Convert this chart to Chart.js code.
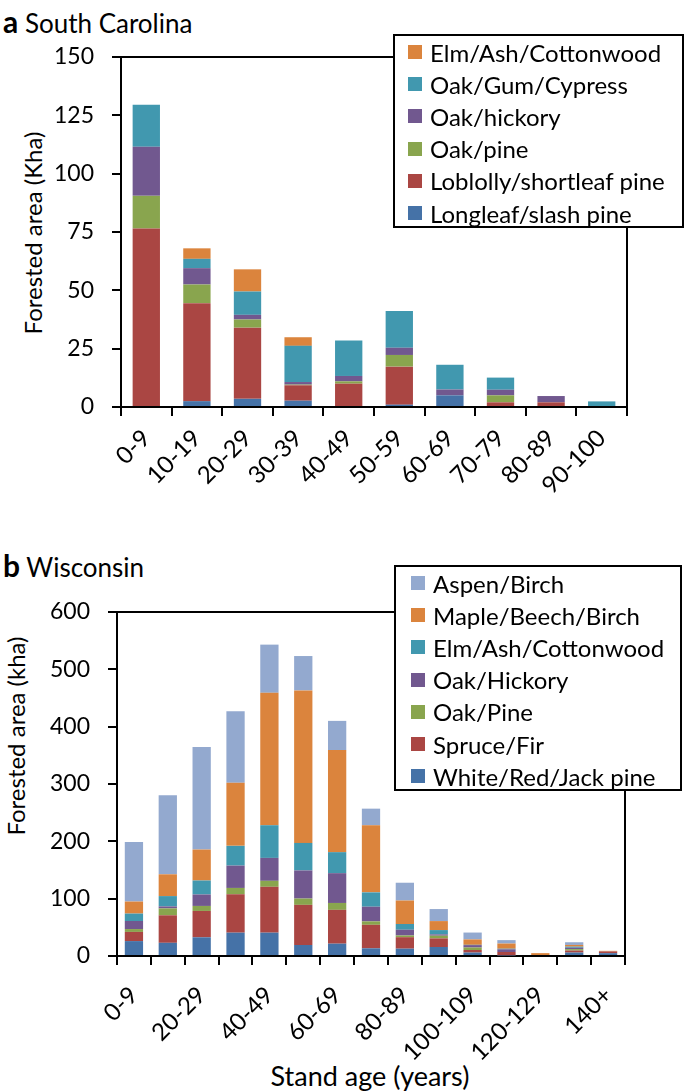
<!DOCTYPE html>
<html>
<head>
<meta charset="utf-8">
<script src="https://cdn.jsdelivr.net/npm/chart.js@4.4.1/dist/chart.umd.min.js"></script>
<style>
  body { margin: 0; background: #fff; }
  #wrap { position: relative; width: 685px; height: 1092px; overflow: hidden; font-family: Lato, sans-serif; color: #000; }
  canvas { position: absolute; left: 0; }
  .txt { position: absolute; white-space: nowrap; line-height: 1; }
  .ytitle { position: absolute; white-space: nowrap; line-height: 1; font-size: 24px; transform: translate(-50%, -50%) rotate(-90deg); }
  .legend { position: absolute; background: #fff; border: 2px solid #000; box-sizing: border-box; }
  .legend .row { position: absolute; left: 0; height: 32px; display: flex; align-items: center; font-size: 24px; white-space: nowrap; }
  .legend .sw { display: inline-block; width: 14px; height: 14px; margin-right: 8px; }
</style>
</head>
<body>
<div id="wrap">
  <div class="txt" style="left:3px;top:6px;font-size:26px;"><b style="font-size:30px;">a</b> South Carolina</div>
  <div class="txt" style="left:3px;top:550px;font-size:26px;"><b style="font-size:30px;">b</b> Wisconsin</div>
  <div class="ytitle" style="left:33px;top:233px;">Forested area (Kha)</div>
  <div class="ytitle" style="left:16px;top:736px;">Forested area (kha)</div>
  <div class="txt" style="left:370px;top:1062px;font-size:27px;transform:translateX(-50%);">Stand age (years)</div>
  <canvas id="chartA" width="685" height="545" style="top:0;width:685px;height:545px;"></canvas>
  <canvas id="chartB" width="685" height="547" style="top:545px;width:685px;height:547px;"></canvas>
  <div id="legendA" class="legend" style="left:393px;top:34px;width:291px;height:194px;"></div>
  <div id="legendB" class="legend" style="left:394px;top:565px;width:288px;height:226px;"></div>
</div>
<script>
// South Carolina
const saCategories = ["0-9", "10-19", "20-29", "30-39", "40-49", "50-59", "60-69", "70-79", "80-89", "90-100"];
const saLongleaf = [0, 2.5, 3.5, 2.7, 0, 1, 5, 0, 0, 0];
const saLoblolly = [76.5, 42, 30.5, 6.6, 10, 16.3, 0, 2, 2, 0];
const saOakPine = [14, 8, 3.5, 0.3, 1, 5, 0, 3, 0, 0];
const saOakHickory = [21, 7, 2, 1.1, 2.3, 3.1, 2.5, 2.4, 2.7, 0];
const saOakGum = [18, 4, 10, 15.5, 15.2, 15.7, 10.6, 5.2, 0, 2.4];
const saElm = [0, 4.5, 9.5, 3.7, 0, 0, 0, 0, 0, 0];
const saTicks = [0, 25, 50, 75, 100, 125, 150];

// Wisconsin
const wiCategories = ["0-9", "10-19", "20-29", "30-39", "40-49", "50-59", "60-69", "70-79", "80-89", "90-99",
  "100-109", "110-119", "120-129", "130-139", "140+"];
const wiWhite = [26, 23, 32.6, 40.7, 40.7, 19.2, 21.5, 13.4, 12.8, 15.7, 6, 1, 0, 6, 5];
const wiSpruce = [16, 48, 46, 67, 80, 70, 59, 41, 20, 15, 4.5, 6, 0, 3.5, 3];
const wiOakPine = [5, 12, 8.7, 11, 10.4, 11, 12, 6, 3, 4.7, 4.3, 0, 0, 2.5, 0];
const wiOakHickory = [14, 3.5, 20, 39, 40, 49, 52, 25.6, 10, 2.3, 4.2, 4.7, 0, 2.4, 0];
const wiElm = [13, 18, 24.4, 34.4, 57, 48, 36.6, 25, 10, 7.5, 0.5, 1, 0, 1.9, 0];
const wiMaple = [21, 38, 54, 110, 231, 266, 178, 117, 41, 15.7, 9.4, 9, 5, 3, 1];
const wiAspen = [104, 138, 179, 125, 84, 60, 51, 29, 31, 21, 12, 6, 0, 4.7, 0];
const wiTicks = [0, 100, 200, 300, 400, 500, 600];

const COLORS = {
  blue: "#4572A7", red: "#AA4643", green: "#89A54E", purple: "#71588F",
  teal: "#4198AF", orange: "#DB843D", lightBlue: "#93A9CF",
};

const saSeries = [
  { label: "Longleaf/slash pine", data: saLongleaf, color: COLORS.blue },
  { label: "Loblolly/shortleaf pine", data: saLoblolly, color: COLORS.red },
  { label: "Oak/pine", data: saOakPine, color: COLORS.green },
  { label: "Oak/hickory", data: saOakHickory, color: COLORS.purple },
  { label: "Oak/Gum/Cypress", data: saOakGum, color: COLORS.teal },
  { label: "Elm/Ash/Cottonwood", data: saElm, color: COLORS.orange },
];

const wiSeries = [
  { label: "White/Red/Jack pine", data: wiWhite, color: COLORS.blue },
  { label: "Spruce/Fir", data: wiSpruce, color: COLORS.red },
  { label: "Oak/Pine", data: wiOakPine, color: COLORS.green },
  { label: "Oak/Hickory", data: wiOakHickory, color: COLORS.purple },
  { label: "Elm/Ash/Cottonwood", data: wiElm, color: COLORS.teal },
  { label: "Maple/Beech/Birch", data: wiMaple, color: COLORS.orange },
  { label: "Aspen/Birch", data: wiAspen, color: COLORS.lightBlue },
];

const FONT = "Lato, sans-serif";

// top and right lines of the plot frame
const framePlugin = {
  id: "frame",
  afterDraw(chart) {
    const { ctx, chartArea: a } = chart;
    ctx.save();
    ctx.strokeStyle = "#000";
    ctx.lineWidth = 2;
    ctx.beginPath();
    ctx.moveTo(a.left, a.top);
    ctx.lineTo(a.right, a.top);
    ctx.lineTo(a.right, a.bottom);
    ctx.stroke();
    ctx.restore();
  },
};

function buildLegend(el, series, sqLeft, textLeft) {
  const rows = series.slice().reverse();
  rows.forEach((s, i) => {
    const row = document.createElement("div");
    row.className = "row";
    row.style.top = (i * 32.2) + "px";
    row.style.left = sqLeft + "px";
    const sw = document.createElement("span");
    sw.className = "sw";
    sw.style.background = s.color;
    sw.style.marginRight = (textLeft - sqLeft - 14) + "px";
    row.appendChild(sw);
    row.appendChild(document.createTextNode(s.label));
    el.appendChild(row);
  });
}

function makeChart(id, categories, series, ticks, area, everyOther, labelPad) {
  const ctx = document.getElementById(id).getContext("2d");
  const canvasH = ctx.canvas.height;
  return new Chart(ctx, {
    type: "bar",
    data: {
      labels: categories,
      datasets: series.map((s) => ({
        label: s.label,
        data: s.data,
        backgroundColor: s.color,
        borderWidth: 0,
        barPercentage: 0.54,
        categoryPercentage: 1.0,
      })),
    },
    options: {
      responsive: false,
      animation: false,
      layout: { padding: { left: 0, top: area.top, right: 685 - area.right, bottom: 0 } },
      plugins: { legend: { display: false }, tooltip: { enabled: false } },
      scales: {
        x: {
          stacked: true,
          afterFit: (scale) => { scale.height = canvasH - area.bottom; },
          border: { display: true, color: "#000", width: 2 },
          grid: { display: true, drawOnChartArea: false, drawTicks: true, tickLength: 9, color: "#000", lineWidth: 2, offset: true },
          ticks: {
            autoSkip: false,
            minRotation: 45,
            maxRotation: 45,
            padding: labelPad,
            color: "#000",
            font: { family: FONT, size: 24 },
            callback: function (v, i) { return everyOther && i % 2 ? "" : this.getLabelForValue(v); },
          },
        },
        y: {
          stacked: true,
          min: ticks[0],
          max: ticks[ticks.length - 1],
          afterFit: (scale) => { scale.width = area.left; },
          afterBuildTicks: (scale) => { scale.ticks = ticks.map((v) => ({ value: v })); },
          border: { display: true, color: "#000", width: 2 },
          grid: { display: true, drawOnChartArea: false, drawTicks: true, tickLength: 9, color: "#000", lineWidth: 2 },
          ticks: { padding: 18, color: "#000", font: { family: FONT, size: 23 } },
        },
      },
    },
    plugins: [framePlugin],
  });
}

makeChart("chartA", saCategories, saSeries, saTicks, { left: 121, right: 627, top: 57, bottom: 407 }, false, 8);
makeChart("chartB", wiCategories, wiSeries, wiTicks, { left: 117, right: 625, top: 67, bottom: 411 }, true, 16);
buildLegend(document.getElementById("legendA"), saSeries, 13, 35);
buildLegend(document.getElementById("legendB"), wiSeries, 15, 37);
</script>
</body>
</html>
